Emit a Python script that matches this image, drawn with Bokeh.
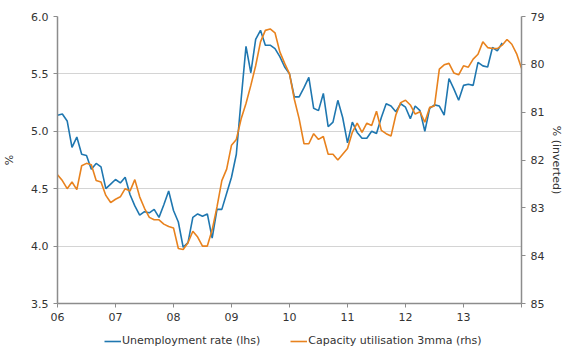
from bokeh.plotting import figure
from bokeh.layouts import column
from bokeh.models import (Range1d, LinearAxis, Legend, LegendItem, FixedTicker,
                          PrintfTickFormatter, ColumnDataSource)
from bokeh.embed import file_html
from bokeh.resources import INLINE

# ---- data (monthly, starting Jan 2006) ----
start_year = 2006
unemployment = [
    5.14, 5.15, 5.09, 4.86, 4.95, 4.80, 4.79, 4.67, 4.72, 4.69, 4.50, 4.54,
    4.58, 4.55, 4.60, 4.45, 4.35, 4.27, 4.30, 4.29, 4.32, 4.25, 4.36, 4.48,
    4.31, 4.21, 3.99, 4.03, 4.25, 4.28, 4.26, 4.28, 4.07, 4.32, 4.32, 4.46,
    4.60, 4.80, 5.28, 5.74, 5.51, 5.80, 5.88, 5.75, 5.75, 5.72, 5.65, 5.56,
    5.50, 5.30, 5.30, 5.38, 5.47, 5.20, 5.18, 5.33, 5.04, 5.08, 5.27, 5.12,
    4.90, 5.08, 4.99, 4.94, 4.94, 5.00, 4.98, 5.12, 5.24, 5.22, 5.17, 5.24,
    5.21, 5.11, 5.22, 5.18, 5.00, 5.20, 5.23, 5.22, 5.14, 5.46, 5.37, 5.27,
    5.40, 5.41, 5.40, 5.60, 5.57, 5.56, 5.73, 5.70, 5.77,
]
capacity_3mma = [
    82.31, 82.43, 82.60, 82.46, 82.62, 82.12, 82.07, 82.10, 82.43, 82.46, 82.74, 82.89,
    82.82, 82.77, 82.60, 82.65, 82.41, 82.77, 83.01, 83.20, 83.25, 83.25, 83.34, 83.39,
    83.42, 83.85, 83.87, 83.73, 83.49, 83.61, 83.80, 83.80, 83.46, 82.98, 82.43, 82.19,
    81.69, 81.57, 81.14, 80.82, 80.44, 80.03, 79.53, 79.29, 79.26, 79.34, 79.74, 79.98,
    80.20, 80.73, 81.14, 81.66, 81.66, 81.45, 81.57, 81.51, 81.88, 81.88, 82.00, 81.88,
    81.76, 81.42, 81.23, 81.42, 81.23, 81.28, 80.98, 81.38, 81.45, 81.50, 81.06, 80.80,
    80.75, 80.85, 81.04, 80.99, 81.21, 80.90, 80.87, 80.10, 80.01, 79.98, 80.18, 80.22,
    80.03, 80.06, 79.89, 79.79, 79.53, 79.65, 79.67, 79.67, 79.60, 79.48, 79.58, 79.78,
    80.08,
]
year_ticks = [2006, 2007, 2008, 2009, 2010, 2011, 2012, 2013, 2014]
year_labels = ["06", "07", "08", "09", "10", "11", "12", "13", ""]
lhs_ticks = [3.5, 4.0, 4.5, 5.0, 5.5, 6.0]
rhs_ticks = [79, 80, 81, 82, 83, 84, 85]
series_names = ["Unemployment rate (lhs)", "Capacity utilisation 3mma (rhs)"]

x_u = [start_year + i / 12 for i in range(len(unemployment))]
x_c = [start_year + i / 12 for i in range(len(capacity_3mma))]
src_u = ColumnDataSource(dict(x=x_u, y=unemployment))
src_c = ColumnDataSource(dict(x=x_c, y=capacity_3mma))

FONT = "DejaVu Sans"
TXT = "#333333"
AXC = "#8c8c8c"
BLUE = "#1f77b0"
ORANGE = "#e8821e"

p = figure(width=570, height=325, output_backend="svg", toolbar_location=None,
           x_range=Range1d(2006, 2014), y_range=Range1d(3.5, 6.0),
           min_border_left=53, min_border_right=49, min_border_top=16,
           min_border_bottom=22, background_fill_color="white")
p.extra_y_ranges = {"rhs": Range1d(start=85, end=79)}
p.outline_line_color = None

p.xgrid.visible = False
p.ygrid.ticker = FixedTicker(ticks=lhs_ticks)
p.ygrid.grid_line_color = "#d4d4d4"
p.ygrid.grid_line_width = 1

p.line("x", "y", source=src_u, line_color=BLUE, line_width=1.6)
p.line("x", "y", source=src_c, line_color=ORANGE, line_width=1.6, y_range_name="rhs")

rax = LinearAxis(y_range_name="rhs", axis_label="% (inverted)")
p.add_layout(rax, "right")


def style(ax):
    ax.axis_line_color = AXC
    ax.axis_line_width = 1.5
    ax.major_tick_line_color = AXC
    ax.major_tick_out = 4
    ax.major_tick_in = 0
    ax.minor_tick_line_color = None
    ax.major_label_text_font = FONT
    ax.major_label_text_font_size = "11px"
    ax.major_label_text_color = TXT
    ax.axis_label_text_font = FONT
    ax.axis_label_text_font_size = "11px"
    ax.axis_label_text_font_style = "normal"
    ax.axis_label_text_color = TXT


xax = p.xaxis[0]
style(xax)
xax.ticker = FixedTicker(ticks=year_ticks)
xax.major_label_overrides = {t: l for t, l in zip(year_ticks, year_labels)}

lax = p.yaxis[0]
style(lax)
lax.ticker = FixedTicker(ticks=lhs_ticks)
lax.formatter = PrintfTickFormatter(format="%.1f")
lax.axis_label = "%"
lax.axis_label_standoff = 12

style(rax)
rax.ticker = FixedTicker(ticks=rhs_ticks)
rax.axis_label_standoff = 3

# ---- legend strip below the chart ----
lg = figure(width=570, height=28, output_backend="svg", toolbar_location=None,
            x_axis_type=None, y_axis_type=None, min_border=0,
            x_range=Range1d(0, 1), y_range=Range1d(0, 1))
lg.outline_line_color = None
lg.grid.visible = False
nan = float("nan")
d_u = lg.line(x=[nan], y=[nan], line_color=BLUE, line_width=1.6)
d_c = lg.line(x=[nan], y=[nan], line_color=ORANGE, line_width=1.6)
legend = Legend(items=[LegendItem(label=series_names[0], renderers=[d_u]),
                       LegendItem(label=series_names[1], renderers=[d_c])],
                orientation="horizontal", location=(47, 6))
legend.label_text_font = FONT
legend.label_text_font_size = "11px"
legend.label_text_color = TXT
legend.glyph_width = 17
legend.glyph_height = 12
legend.label_standoff = 1
legend.spacing = 30
legend.padding = 0
legend.margin = 0
legend.border_line_color = None
legend.background_fill_alpha = 0
lg.add_layout(legend, "center")

layout = column(p, lg, spacing=0)
open("out.html", "w").write(file_html(layout, INLINE))
